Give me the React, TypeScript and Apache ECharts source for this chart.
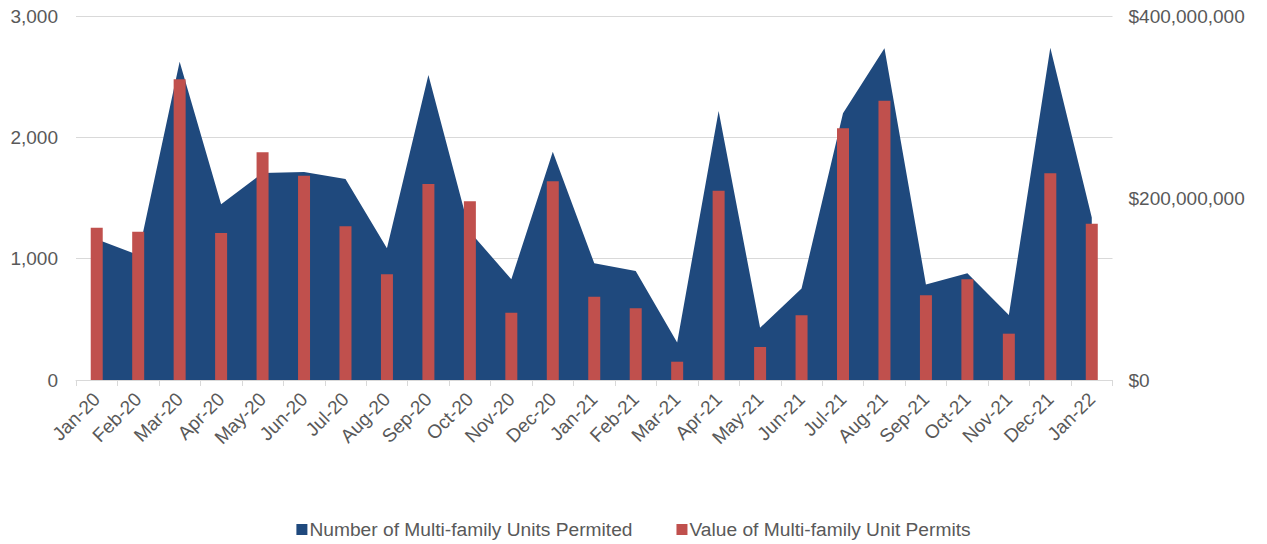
import React, { useEffect, useRef } from "react";
import * as echarts from "echarts";

const categories = [
  "Jan-20", "Feb-20", "Mar-20", "Apr-20", "May-20", "Jun-20", "Jul-20", "Aug-20",
  "Sep-20", "Oct-20", "Nov-20", "Dec-20", "Jan-21", "Feb-21", "Mar-21", "Apr-21",
  "May-21", "Jun-21", "Jul-21", "Aug-21", "Sep-21", "Oct-21", "Nov-21", "Dec-21", "Jan-22",
];

const unitsPermitted = [
  1160, 1030, 2623, 1448, 1706, 1715, 1657, 1085, 2514, 1222, 830, 1881, 962,
  898, 310, 2217, 431, 755, 2198, 2734, 788, 879, 536, 2739, 1340,
];

const permitValues = [
  167400000, 163000000, 330400000, 161500000, 250200000, 224500000, 168900000,
  116100000, 215400000, 196400000, 74000000, 218300000, 91600000, 78800000,
  20100000, 208100000, 36300000, 71100000, 276600000, 307000000, 93000000,
  110600000, 50900000, 227100000, 171800000,
];

const leftTicks = { min: 0, max: 3000, interval: 1000 };
const rightTicks = { min: 0, max: 400000000, interval: 200000000 };

const seriesNames = [
  "Number of Multi-family Units Permited",
  "Value of Multi-family Unit Permits",
];

export default function App() {
  const ref = useRef<HTMLDivElement>(null);
  useEffect(() => {
    document.body.style.margin = "0";
    if (!ref.current) return;
    const chart = echarts.init(ref.current, null, { renderer: "svg" });
    const font = "'Liberation Sans', Arial, sans-serif";
    const textColor = "#595959";
    chart.setOption({
      animation: false,
      textStyle: { fontFamily: font },
      grid: { left: 76, right: 154.5, top: 16, bottom: 164, containLabel: false },
      legend: {
        bottom: 0,
        left: "center",
        icon: "rect",
        itemWidth: 11,
        itemHeight: 11,
        itemGap: 44,
        textStyle: { color: textColor, fontSize: 19.2, fontFamily: font, padding: [0, 0, 0, -3] },
        data: seriesNames,
      },
      xAxis: {
        type: "category",
        data: categories,
        boundaryGap: true,
        axisLine: { show: true, lineStyle: { color: "#d9d9d9", width: 1 } },
        axisTick: { show: true, length: 6, alignWithLabel: false, lineStyle: { color: "#d9d9d9" } },
        axisLabel: {
          rotate: 45,
          interval: 0,
          color: textColor,
          fontSize: 19,
          fontFamily: font,
          margin: 16,
        },
      },
      yAxis: [
        {
          type: "value",
          ...leftTicks,
          axisLine: { show: false },
          axisTick: { show: false },
          splitLine: { show: true, lineStyle: { color: "#d9d9d9", width: 1 } },
          axisLabel: {
            color: textColor,
            fontSize: 19,
            fontFamily: font,
            margin: 18,
            formatter: (v: number) => v.toLocaleString("en-US"),
          },
        },
        {
          type: "value",
          ...rightTicks,
          position: "right",
          axisLine: { show: false },
          axisTick: { show: false },
          splitLine: { show: false },
          axisLabel: {
            color: textColor,
            fontSize: 19,
            fontFamily: font,
            margin: 16,
            formatter: (v: number) => "$" + v.toLocaleString("en-US"),
          },
        },
      ],
      series: [
        {
          name: seriesNames[0],
          type: "line",
          data: unitsPermitted,
          yAxisIndex: 0,
          symbol: "none",
          lineStyle: { width: 0, color: "#1F497D" },
          itemStyle: { color: "#1F497D" },
          areaStyle: { color: "#1F497D", opacity: 1 },
          z: 2,
        },
        {
          name: seriesNames[1],
          type: "bar",
          data: permitValues,
          yAxisIndex: 1,
          barWidth: 12,
          itemStyle: { color: "#C0504D" },
          z: 3,
        },
      ],
    });
    return () => chart.dispose();
  }, []);
  return <div ref={ref} style={{ width: 1267, height: 544 }} />;
}
